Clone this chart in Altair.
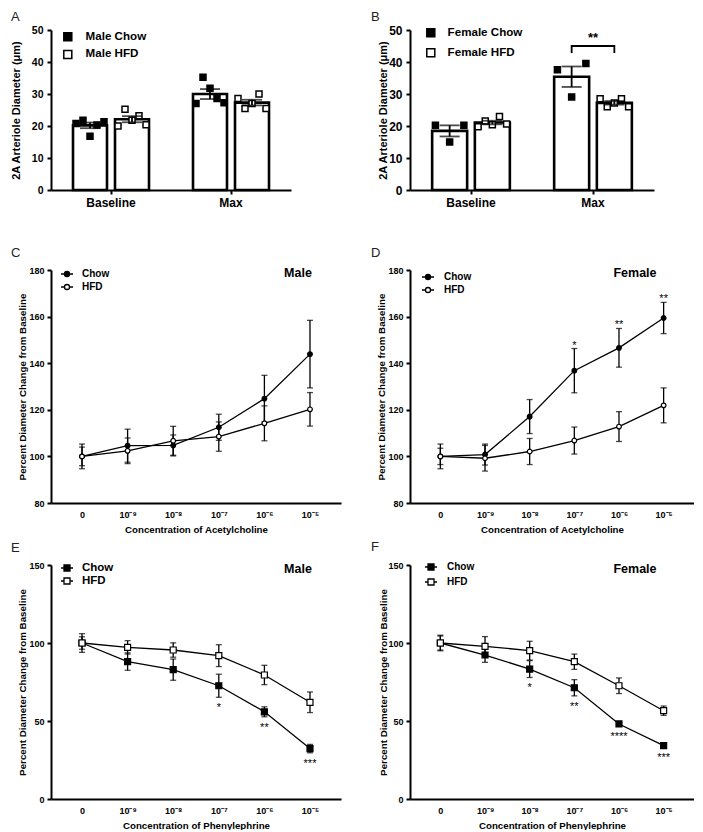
import altair as alt
import pandas as pd

FONT = "Liberation Sans"

# ---------------- Panels A / B : individual arteriole diameters (um) ----------------
conditions = ["Baseline", "Max"]
male_groups = ["Male Chow", "Male HFD"]
female_groups = ["Female Chow", "Female HFD"]

male_chow_baseline = [20.8, 21.8, 16.8, 20.3, 21.3]
male_hfd_baseline = [20.0, 25.2, 21.8, 23.2, 20.4]
male_chow_max = [27.0, 35.2, 31.8, 28.6, 27.3]
male_hfd_max = [28.6, 25.5, 27.0, 30.0, 25.5]

female_chow_baseline = [20.2, 15.0, 20.2]
female_hfd_baseline = [19.8, 21.6, 20.4, 23.0, 20.6]
female_chow_max = [37.6, 29.1, 39.5]
female_hfd_max = [28.5, 26.0, 27.2, 28.5, 26.0]

# ---------------- Panels C-F : dose responses (mean, SEM) ----------------
concentrations = ["0", "10⁻⁹", "10⁻⁸", "10⁻⁷", "10⁻⁶", "10⁻⁵"]

ach_male_chow = [100.0, 104.6, 104.7, 112.5, 124.8, 143.9]
ach_male_chow_sem = [5.3, 7.1, 4.5, 5.6, 10.0, 14.5]
ach_male_hfd = [100.0, 102.4, 106.7, 108.5, 114.2, 120.2]
ach_male_hfd_sem = [4.0, 5.5, 6.2, 6.3, 7.5, 7.2]

ach_female_chow = [100.0, 100.8, 117.1, 136.8, 146.6, 159.4]
ach_female_chow_sem = [5.3, 4.5, 7.3, 9.5, 8.3, 6.7]
ach_female_hfd = [100.0, 99.2, 102.1, 106.8, 112.8, 121.9]
ach_female_hfd_sem = [3.5, 5.5, 5.6, 5.8, 6.4, 7.5]

pe_male_chow = [100.0, 88.1, 82.9, 72.6, 55.9, 32.3]
pe_male_chow_sem = [6.0, 5.6, 6.8, 7.4, 3.2, 2.7]
pe_male_hfd = [100.0, 97.2, 95.5, 91.9, 79.5, 62.0]
pe_male_hfd_sem = [4.0, 4.3, 4.6, 7.0, 6.2, 6.6]

pe_female_chow = [100.0, 92.3, 83.3, 71.3, 48.1, 34.2]
pe_female_chow_sem = [4.5, 4.7, 5.4, 5.2, 1.5, 1.0]
pe_female_hfd = [100.0, 97.9, 95.1, 88.0, 72.6, 56.6]
pe_female_hfd_sem = [5.0, 6.2, 6.0, 4.9, 5.0, 3.0]

ach_male_sig = ["", "", "", "", "", ""]
ach_female_sig = ["", "", "", "*", "**", "**"]
pe_male_sig = ["", "", "", "*", "**", "***"]
pe_female_sig = ["", "", "*", "**", "****", "***"]

# jitter slots used to spread the individual points within a bar (with empty edge slots)
slots = ["e0", "e1", "e2",
         "Chow-0", "Chow-1", "Chow-2", "Chow-3", "Chow-4", "mid",
         "HFD-0", "HFD-1", "HFD-2", "HFD-3", "HFD-4",
         "e3", "e4", "e5"]


def diameter_table(labels, chow_base, hfd_base, chow_max, hfd_max):
    rows = []
    for cond, diet, label, vals in [("Baseline", "Chow", labels[0], chow_base),
                                    ("Baseline", "HFD", labels[1], hfd_base),
                                    ("Max", "Chow", labels[0], chow_max),
                                    ("Max", "HFD", labels[1], hfd_max)]:
        for i, v in enumerate(vals):
            rows.append({"cond": cond, "diet": diet, "group": label, "idx": i, "v": v})
    return pd.DataFrame(rows)


def letter_title(letter, dx, dy):
    return alt.TitleParams(text=letter, anchor="start", frame="group", orient="top",
                           offset=0, dx=dx, dy=dy, baseline="alphabetic",
                           font=FONT, fontSize=13, fontWeight="normal", color="#222222")


def bar_panel(df, labels, letter, width, bar_w, title_x, label_size,
              lx, ly, lrow, loff, tdx, tdy, bracket=False):
    x = alt.X("cond:N", sort=conditions, title=None,
              scale=alt.Scale(paddingInner=0, paddingOuter=0),
              axis=alt.Axis(labelAngle=0, labelFontSize=12, tickSize=4, labelPadding=3))
    xo = alt.XOffset("slot:N", scale=alt.Scale(domain=slots, paddingInner=0, paddingOuter=0.07))
    y_scale = alt.Scale(domain=[0, 50], nice=False)
    y_axis = alt.Axis(values=[0, 10, 20, 30, 40, 50], title="2A Arteriole Diameter (μm)",
                      titleFontSize=11, labelFontSize=label_size, tickSize=4, labelPadding=4,
                      titleX=title_x, titleBaseline="middle")

    def yc(field):
        return alt.Y(field, scale=y_scale, axis=y_axis, title="2A Arteriole Diameter (μm)")

    base = alt.Chart(df)
    summary = base.transform_aggregate(
        m="mean(v)", sd="stdev(v)", n="count()", groupby=["cond", "diet"]
    ).transform_calculate(
        lo="datum.m - datum.sd / sqrt(datum.n)",
        hi="datum.m + datum.sd / sqrt(datum.n)",
        slot="datum.diet + '-2'",
    )
    bars = summary.mark_bar(width=bar_w, fill="white", stroke="black", strokeWidth=2.6).encode(
        x=x, xOffset=xo, y=yc("m:Q"))
    pts = base.transform_window(
        rn="row_number()", groupby=["cond", "diet"], sort=[alt.SortField("idx")]
    ).transform_joinaggregate(
        n="count()", groupby=["cond", "diet"]
    ).transform_calculate(
        slot="datum.diet + '-' + (datum.n > 1 ? round(4 * (datum.rn - 1) / (datum.n - 1)) : 2)"
    ).mark_point(shape="square", filled=True, size=36, stroke="black", strokeWidth=1.5,
                 opacity=1).encode(
        x=x, xOffset=xo, y=yc("v:Q"),
        fill=alt.Fill("group:N", scale=alt.Scale(domain=labels, range=["black", "white"]),
                      legend=alt.Legend(title=None, orient="none", legendX=lx, legendY=ly,
                                        symbolType="square", symbolSize=64,
                                        symbolStrokeColor="black", symbolStrokeWidth=1.5,
                                        labelFontSize=11.6, labelOffset=loff,
                                        rowPadding=lrow, padding=0)))
    err = summary.mark_rule(color="black", strokeWidth=1.8).encode(
        x=x, xOffset=xo, y=yc("lo:Q"), y2="hi:Q")
    caps = summary.transform_fold(["lo", "hi"], as_=["end", "val"]).mark_tick(
        color="black", size=20, thickness=1.8).encode(x=x, xOffset=xo, y=yc("val:Q"))
    layers = [bars, pts, err, caps]
    if bracket:
        br = pd.DataFrame({"cond": ["Max"] * 4,
                           "slot": ["Chow-2", "Chow-2", "HFD-2", "HFD-2"],
                           "y": [42.8, 45.0, 45.0, 42.8], "o": [0, 1, 2, 3]})
        line = alt.Chart(br).mark_line(color="black", strokeWidth=1.8).encode(
            x=x, xOffset=xo, y=yc("y:Q"), order="o:Q")
        star = alt.Chart(br).transform_filter("datum.o == 1").transform_calculate(
            t="'**'").mark_text(fontSize=13, fontWeight="bold", baseline="alphabetic",
                                dy=-4).encode(x=x, y=yc("y:Q"), text="t:N")
        layers += [line, star]
    return alt.layer(*layers).properties(width=width, height=160,
                                         title=letter_title(letter, tdx, tdy))


LINE_PATH_CIRCLE = ("M-1,0L-0.42,0M0.42,0L1,0M-0.42,0A0.42,0.42,0,1,0,0.42,0"
                    "A0.42,0.42,0,1,0,-0.42,0Z")
LINE_PATH_SQUARE = "M-1,0L-0.5,0M0.5,0L1,0M-0.5,-0.5L0.5,-0.5L0.5,0.5L-0.5,0.5Z"


def line_panel(chow, chow_sem, hfd, hfd_sem, sig, letter, sex, drug, width, height,
               y_domain, y_values, y_range, marker, msize, sym, title_x,
               lx, ly, lrow, lfont, loff, sx, sy, tdx, tdy, sig_below):
    rows = []
    for i, c in enumerate(concentrations):
        rows.append({"conc": c, "diet": "Chow", "m": chow[i], "s": chow_sem[i], "sig": sig[i]})
        rows.append({"conc": c, "diet": "HFD", "m": hfd[i], "s": hfd_sem[i], "sig": ""})
    df = pd.DataFrame(rows)
    x = alt.X("conc:N", sort=concentrations,
              scale=alt.Scale(type="point", padding=0.68),
              axis=alt.Axis(title="Concentration of " + drug, labelAngle=0, ticks=False,
                            tickSize=0, labelPadding=7, labelFontSize=9, titleFontSize=9.7,
                            titleY=21))
    y_scale = alt.Scale(domain=y_domain, range=y_range, nice=False)
    ytitle = "Percent Diameter Change from Baseline"
    y_axis = alt.Axis(values=y_values, title=ytitle, titleFontSize=9.8, labelFontSize=9,
                      tickSize=4, labelPadding=3, titleX=title_x, titleBaseline="middle")

    def yc(field):
        return alt.Y(field, scale=y_scale, axis=y_axis, title=ytitle)

    base = alt.Chart(df).transform_calculate(lo="datum.m - datum.s", hi="datum.m + datum.s")
    line = base.mark_line(color="black", strokeWidth=1.3).encode(
        x=x, y=yc("m:Q"), detail="diet:N")
    err = base.mark_rule(color="black", strokeWidth=1.3).encode(x=x, y=yc("lo:Q"), y2="hi:Q")
    caps = base.transform_fold(["lo", "hi"], as_=["end", "val"]).mark_tick(
        color="black", size=6, thickness=1.3).encode(x=x, y=yc("val:Q"))
    pts = base.mark_point(shape=marker, filled=True, size=msize, stroke="black",
                          strokeWidth=1.2, opacity=1).encode(
        x=x, y=yc("m:Q"),
        fill=alt.Fill("diet:N", scale=alt.Scale(domain=["Chow", "HFD"], range=["black", "white"]),
                      legend=alt.Legend(title=None, orient="none", legendX=lx, legendY=ly,
                                        symbolType=sym, symbolSize=144,
                                        symbolStrokeColor="black", symbolStrokeWidth=1.3,
                                        labelFontSize=lfont, labelOffset=loff,
                                        rowPadding=lrow, padding=0)))
    if sig_below:
        sigt = base.transform_filter("datum.sig != ''").mark_text(
            fontSize=11, baseline="alphabetic", dy=14, color="black").encode(
            x=x, y=yc("lo:Q"), text="sig:N")
    else:
        sigt = base.transform_filter("datum.sig != ''").mark_text(
            fontSize=11, baseline="alphabetic", dy=0, color="black").encode(
            x=x, y=yc("hi:Q"), text="sig:N")
    lab = alt.Chart(pd.DataFrame({"t": [sex]})).mark_text(
        fontSize=12.5, fontWeight="bold", align="center", baseline="middle").encode(
        text="t:N", x=alt.value(sx), y=alt.value(sy))
    return alt.layer(line, err, caps, pts, sigt, lab).properties(
        width=width, height=height, title=letter_title(letter, tdx, tdy))


panel_a = bar_panel(diameter_table(male_groups, male_chow_baseline, male_hfd_baseline,
                                   male_chow_max, male_hfd_max),
                    male_groups, "A", 240, 34, -35, 10.5, 11, 1, 2.6, 12, -40, 9)
panel_b = bar_panel(diameter_table(female_groups, female_chow_baseline, female_hfd_baseline,
                                   female_chow_max, female_hfd_max),
                    female_groups, "B", 244, 35, -27, 12, 15, -3, 5, 11, -39, 10,
                    bracket=True)

panel_c = line_panel(ach_male_chow, ach_male_chow_sem, ach_male_hfd, ach_male_hfd_sem,
                     ach_male_sig, "C", "Male", "Acetylcholine", 290, 251,
                     [80, 180], [80, 100, 120, 140, 160, 180], [251, 18],
                     "circle", 22, LINE_PATH_CIRCLE, -29,
                     9, 15, 0, 10, 8, 247, 21, -40, 18, False)
panel_d = line_panel(ach_female_chow, ach_female_chow_sem, ach_female_hfd, ach_female_hfd_sem,
                     ach_female_sig, "D", "Female", "Acetylcholine", 284, 251,
                     [80, 180], [80, 100, 120, 140, 160, 180], [251, 18],
                     "circle", 22, LINE_PATH_CIRCLE, -29,
                     11, 18, 0, 10, 9, 225, 21, -39, 18, False)
panel_e = line_panel(pe_male_chow, pe_male_chow_sem, pe_male_hfd, pe_male_hfd_sem,
                     pe_male_sig, "E", "Male", "Phenylephrine", 290, 234,
                     [0, 150], [0, 50, 100, 150], [234, 0],
                     "square", 36, LINE_PATH_SQUARE, -29,
                     9, -4, -1, 11.5, 8, 247, 4, -40, 4, True)
panel_f = line_panel(pe_female_chow, pe_female_chow_sem, pe_female_hfd, pe_female_hfd_sem,
                     pe_female_sig, "F", "Female", "Phenylephrine", 284, 234,
                     [0, 150], [0, 50, 100, 150], [234, 0],
                     "square", 36, LINE_PATH_SQUARE, -27,
                     14, -5, 2, 10, 9, 225, 4, -39, 4, True)

chart = alt.concat(panel_a, panel_b, panel_c, panel_d, panel_e, panel_f,
                   columns=2, spacing={"row": 62, "column": 69},
                   bounds="flush", align="each").resolve_scale(
    x="independent", y="independent", fill="independent", xOffset="independent"
).properties(
    padding={"left": 2, "top": 3, "right": 0, "bottom": 0}
).configure_view(stroke=None).configure_axis(
    domainColor="black", domainWidth=2, tickColor="black", tickWidth=2,
    labelColor="black", titleColor="black", labelFont=FONT, titleFont=FONT,
    labelFontWeight="bold", titleFontWeight="bold", grid=False
).configure_legend(
    labelFont=FONT, labelFontWeight="bold", labelColor="black", titleFont=FONT
).configure_text(font=FONT, color="black").configure_title(font=FONT)

chart.save("out.html", embed_options={"renderer": "svg", "actions": False})
